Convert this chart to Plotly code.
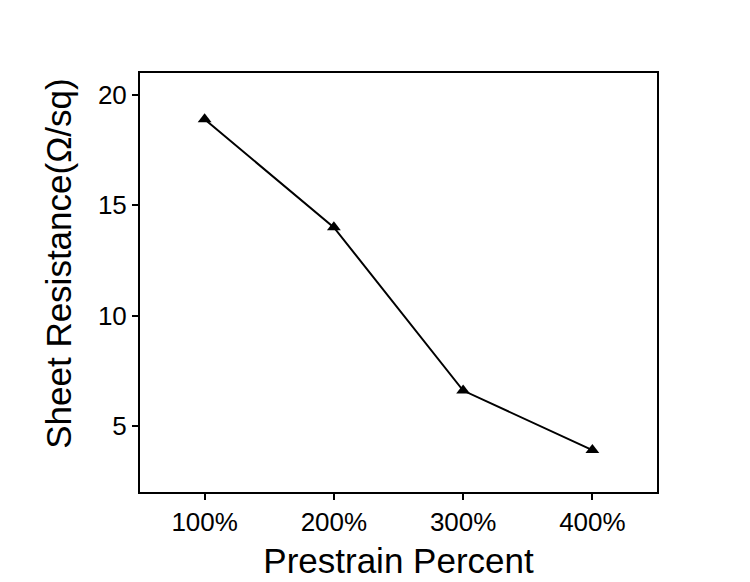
import plotly.graph_objects as go

categories = ["100%", "200%", "300%", "400%"]
x_pos = [1, 2, 3, 4]
resistance = [18.9, 14.0, 6.6, 3.9]
y_ticks = [5, 10, 15, 20]

fig = go.Figure()
fig.add_trace(go.Scatter(
    x=x_pos, y=resistance, mode="lines+markers",
    line=dict(color="black", width=2),
    marker=dict(symbol="triangle-up", size=12, color="black"),
    showlegend=False,
))

font = "Liberation Sans, Arial, sans-serif"
fig.update_layout(
    width=750, height=582,
    margin=dict(l=140, r=93, t=73, b=90),
    paper_bgcolor="white", plot_bgcolor="white",
    font=dict(family=font, color="black"),
    xaxis=dict(
        range=[0.5, 4.5], tickvals=x_pos, ticktext=categories,
        showline=True, linecolor="black", linewidth=2, mirror=True,
        ticks="outside", ticklen=6, tickwidth=1.5, tickcolor="black",
        showgrid=False, zeroline=False, automargin=False,
        tickfont=dict(size=26),
        title=dict(text="Prestrain Percent", font=dict(size=35), standoff=12),
    ),
    yaxis=dict(
        range=[2, 21], tickvals=y_ticks,
        showline=True, linecolor="black", linewidth=2, mirror=True,
        ticks="outside", ticklen=6, tickwidth=1.5, tickcolor="black",
        showgrid=False, zeroline=False, automargin=False,
        tickfont=dict(size=26),
    ),
    annotations=[dict(
        text="Sheet Resistance(Ω/sq)", textangle=-90,
        xref="paper", yref="paper", x=-0.159, y=0.5465,
        xanchor="center", yanchor="middle", showarrow=False,
        font=dict(size=35, family=font, color="black"),
    )],
)
fig.write_html("out.html")
